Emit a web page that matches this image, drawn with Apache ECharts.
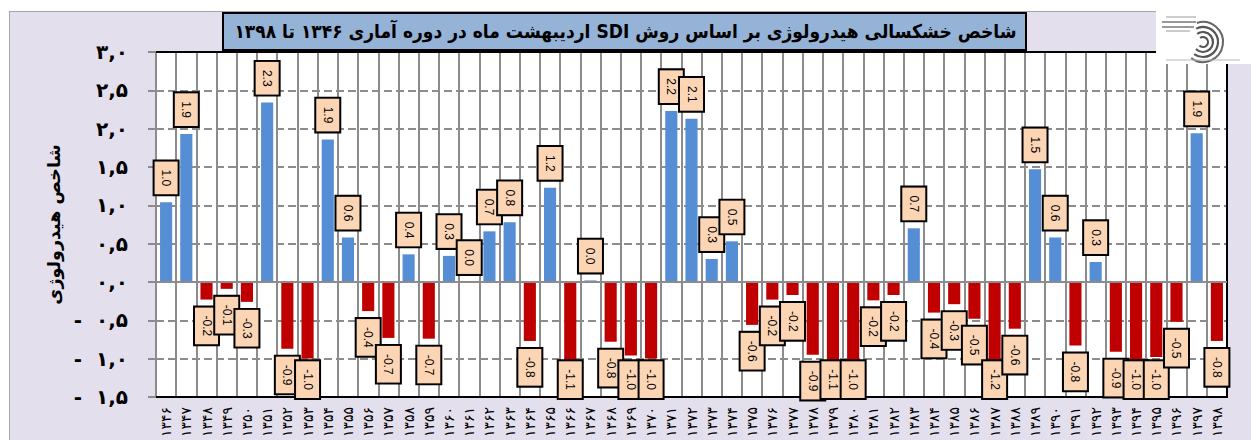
<!DOCTYPE html>
<html>
<head>
<meta charset="utf-8">
<style>
  html, body { margin: 0; padding: 0; background: #fff; overflow: hidden; }
  #wrap { position: relative; width: 1251px; height: 440px; overflow: hidden; }
  #frame { position: absolute; left: 9px; top: 11px; width: 1300px; height: 600px;
           background: #e4dfec; border-left: 1.5px solid #a6a6a6; border-top: 1.5px solid #a6a6a6; }
  #plotbg { position: absolute; left: 156px; top: 52px; width: 1071px; height: 345px; background: #fff; }
  #chart { position: absolute; left: 0; top: 0; width: 1251px; height: 440px; }
</style>
<script src="https://cdn.jsdelivr.net/npm/echarts@6.0.0/dist/echarts.min.js"></script>
</head>
<body>
<div id="wrap">
  <div id="frame"></div>
  <div id="plotbg"></div>
  <div id="chart"></div>
</div>
<script>
// ---- data ----
const titleText = 'شاخص خشکسالی هیدرولوژی بر اساس روش SDI اردیبهشت ماه در دوره آماری ۱۳۴۶ تا ۱۳۹۸';
const yAxisName = 'شاخص هیدرولوژی';
const years = ['۱۳۴۶','۱۳۴۷','۱۳۴۸','۱۳۴۹','۱۳۵۰','۱۳۵۱','۱۳۵۲','۱۳۵۳','۱۳۵۴','۱۳۵۵',
  '۱۳۵۶','۱۳۵۷','۱۳۵۸','۱۳۵۹','۱۳۶۰','۱۳۶۱','۱۳۶۲','۱۳۶۳','۱۳۶۴','۱۳۶۵',
  '۱۳۶۶','۱۳۶۷','۱۳۶۸','۱۳۶۹','۱۳۷۰','۱۳۷۱','۱۳۷۲','۱۳۷۳','۱۳۷۴','۱۳۷۵',
  '۱۳۷۶','۱۳۷۷','۱۳۷۸','۱۳۷۹','۱۳۸۰','۱۳۸۱','۱۳۸۲','۱۳۸۳','۱۳۸۴','۱۳۸۵',
  '۱۳۸۶','۱۳۸۷','۱۳۸۸','۱۳۸۹','۱۳۹۰','۱۳۹۱','۱۳۹۲','۱۳۹۳','۱۳۹۴','۱۳۹۵',
  '۱۳۹۶','۱۳۹۷','۱۳۹۸'];
const sdiValues = [1.04, 1.93, -0.23, -0.09, -0.26, 2.34, -0.87, -1.0, 1.86, 0.58,
  -0.38, -0.73, 0.36, -0.74, 0.34, 0.0, 0.66, 0.78, -0.77, 1.23,
  -1.08, 0.02, -0.78, -0.96, -1.0, 2.23, 2.13, 0.30, 0.53, -0.56,
  -0.23, -0.17, -0.95, -1.1, -1.02, -0.24, -0.17, 0.70, -0.40, -0.29,
  -0.48, -1.2, -0.61, 1.47, 0.58, -0.83, 0.26, -0.91, -1.03, -0.98,
  -0.52, 1.94, -0.77];
const yMin = -1.5, yMax = 3.0, yStep = 0.5;
const yTickLabels = ['-  ۱,۵', '-  ۱,۰', '-  ۰,۵', '۰,۰', '۰,۵', '۱,۰', '۱,۵', '۲,۰', '۲,۵', '۳,۰'];

// ---- styles ----
const BLUE = '#558ed5', RED = '#c00000', GRIDC = '#8c8c8c';
const persianFont = 'DejaVu Sans';
const PLOT = { left: 156, right: 24, top: 52, bottom: 43 };
const W = 1251, H = 440;
const LABEL_LIMIT = 402;

const chart = echarts.init(document.getElementById('chart'), null, { renderer: 'svg' });

const barData = sdiValues.map(v => ({
  value: v,
  label: v >= 0
    ? { position: 'top', align: 'right', verticalAlign: 'middle' }
    : { position: 'bottom', align: 'left', verticalAlign: 'middle' }
}));

function arcEl(r, a0, a1, color, lw) {
  return { type: 'arc', z: 7, silent: true,
    shape: { cx: 1203, cy: 42, r: r, startAngle: a0, endAngle: a1, clockwise: true },
    style: { stroke: color, lineWidth: lw, fill: null } };
}
function lineEl(x1, y1, x2, y2, color, lw, z) {
  return { type: 'line', z: z == null ? 7 : z, silent: true,
    shape: { x1: x1, y1: y1, x2: x2, y2: y2 }, style: { stroke: color, lineWidth: lw } };
}
const plotRight = W - PLOT.right, plotBottom = H - PLOT.bottom;

const option = {
  backgroundColor: 'transparent',
  animation: false,
  title: {
    text: '\u202B' + titleText + '\u202C',
    left: 'center',
    top: 18,
    padding: 0,
    textStyle: { fontFamily: 'DejaVu Sans Condensed', fontWeight: 'bold', fontSize: 19, lineHeight: 26, color: '#000' }
  },
  graphic: {
    elements: [
      { type: 'rect', z: 1, silent: true,
        shape: { x: 223, y: 13, width: 803, height: 37 },
        style: { fill: '#95b3d7', stroke: '#000', lineWidth: 2 } },
      // plot frame: top, right and bottom edges
      lineEl(PLOT.left, PLOT.top, plotRight + 1, PLOT.top, '#000', 2, 1),
      lineEl(plotRight, PLOT.top, plotRight, plotBottom, '#000', 2, 1),
      lineEl(PLOT.left, plotBottom, plotRight + 1, plotBottom, '#000', 2, 1),
      // logo
      { type: 'rect', z: 6, silent: true,
        shape: { x: 1156, y: 4, width: 95, height: 60 },
        style: { fill: '#ffffff' } },
      arcEl(5, -Math.PI * 0.7, Math.PI * 0.75, '#555', 2.2),
      arcEl(10, -Math.PI * 0.7, Math.PI * 0.75, '#555', 2.2),
      arcEl(15, -Math.PI * 0.65, Math.PI * 0.7, '#555', 2.2),
      arcEl(20, -Math.PI * 0.6, Math.PI * 0.7, '#666', 2),
      lineEl(1166, 17, 1196, 17, '#999', 1),
      lineEl(1162, 22, 1196, 22, '#777', 1.5),
      lineEl(1162, 27, 1194, 27, '#777', 1.5),
      lineEl(1166, 31, 1190, 31, '#999', 1),
      lineEl(1166, 60, 1240, 60, '#bbb', 1)
    ]
  },
  grid: {
    left: PLOT.left, right: PLOT.right, top: PLOT.top, bottom: PLOT.bottom,
    show: false
  },
  xAxis: {
    type: 'category',
    data: years,
    boundaryGap: true,
    axisLine: { onZero: false, lineStyle: { color: '#000', width: 2 } },
    axisTick: { show: false },
    splitLine: { show: true, interval: 0, lineStyle: { color: GRIDC, width: 2 } },
    axisLabel: { interval: 0, rotate: 90, margin: 10, fontFamily: persianFont, fontSize: 14, color: '#000' }
  },
  yAxis: {
    type: 'value',
    min: yMin, max: yMax, interval: yStep,
    name: yAxisName,
    nameLocation: 'middle',
    nameGap: 93,
    nameTextStyle: { fontFamily: persianFont, fontWeight: 'bold', fontSize: 17.5, color: '#000' },
    axisLine: { show: true, lineStyle: { color: GRIDC, width: 2 } },
    axisTick: { show: true, length: 8, lineStyle: { color: GRIDC, width: 2 } },
    splitLine: { show: true, lineStyle: { color: GRIDC, width: 2, type: 'dashed' } },
    axisLabel: {
      margin: 28,
      fontFamily: persianFont, fontWeight: 'bold', fontSize: 20, color: '#000',
      formatter: v => yTickLabels[Math.round((v - yMin) / yStep)]
    }
  },
  series: [{
    type: 'bar',
    data: barData,
    barWidth: '60%',
    itemStyle: { color: p => (p.value >= 0 ? BLUE : RED) },
    label: {
      show: true,
      rotate: -90,
      distance: 8,
      formatter: p => Number(p.value).toFixed(1),
      fontFamily: 'Liberation Sans', fontSize: 12, lineHeight: 13, color: '#000',
      backgroundColor: '#fcd5b4', borderColor: '#000', borderWidth: 2,
      padding: [5, 8, 5, 8]
    },
    labelLayout: function (p) {
      if (p.dataIndex != null && sdiValues[p.dataIndex] < 0) {
        const r = p.labelRect;
        if (r.y + r.height > LABEL_LIMIT) {
          return { y: LABEL_LIMIT - r.height };
        }
      }
      return {};
    },
    markLine: {
      silent: true, symbol: 'none', animation: false,
      label: { show: false },
      lineStyle: { color: GRIDC, width: 2, type: 'solid' },
      data: [{ yAxis: 0 }]
    }
  }]
};
chart.setOption(option);
</script>
</body>
</html>
